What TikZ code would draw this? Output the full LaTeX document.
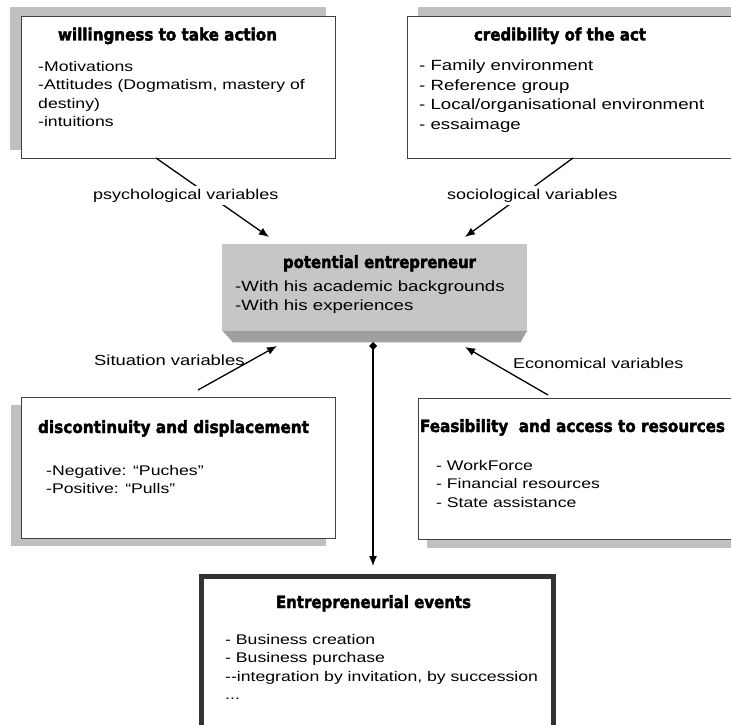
\documentclass[tikz,border=0pt]{standalone}
\usepackage{fontspec}
\usepackage{graphicx}
\usetikzlibrary{arrows.meta}
\newfontfamily\bodyf{Liberation Sans}[FakeStretch=1.26]
\newfontfamily\titlef{DejaVu Sans}[BoldFeatures={FakeBold=2.5}]
\definecolor{shadowgray}{RGB}{192,192,192}
\definecolor{facegray}{RGB}{198,198,198}
\definecolor{bevelgray}{RGB}{160,160,160}
\definecolor{bordergray}{RGB}{64,64,64}
\definecolor{evgray}{RGB}{51,51,51}
\newcommand{\ttl}[2]{\resizebox{#1}{12.8pt}{\titlef\bfseries #2}}
\newcommand{\lines}[1]{\begin{tabular}[t]{@{}l@{}}#1\end{tabular}}
\tikzset{
  shadowbox/.style={fill=shadowgray},
  box/.style={draw=bordergray, line width=1.1pt, fill=white, anchor=north west, inner sep=0pt},
  body/.style={anchor=base west, inner sep=0pt, font=\bodyf\fontsize{14}{18.5}\selectfont},
  bodylg/.style={body, font=\bodyf\fontsize{14.8}{19.5}\selectfont},
  ttlnode/.style={anchor=base, inner sep=0pt},
  lbl/.style={anchor=base west, inner xsep=0pt, inner ysep=3pt, font=\bodyf\fontsize{14.3}{17}\selectfont},
  conn/.style={line width=1.3pt, -{Latex[length=10pt,width=8pt]}},
}
\begin{document}
\begin{tikzpicture}[x=1pt, y=-1pt]
\clip (0,0) rectangle (731,725);
\fill[white] (0,0) rectangle (731,725);
% shadows
\fill[shadowbox] (10,7) rectangle (326,150);
\fill[shadowbox] (418,7) rectangle (740,150);
\fill[shadowbox] (11,405) rectangle (326,546);
\fill[shadowbox] (427,406) rectangle (740,548);
% boxes
\node[box, minimum width=314pt, minimum height=142pt] (will) at (21,16) {};
\node[box, minimum width=330pt, minimum height=142pt] (cred) at (407,16) {};
\node[box, minimum width=314pt, minimum height=141pt] (disc) at (21,397) {};
\node[box, minimum width=320pt, minimum height=141pt] (feas) at (418,398) {};
\node[fill=facegray, anchor=north west, inner sep=0pt, minimum width=305pt, minimum height=86pt] (pe) at (222,244) {};
\fill[bevelgray] (pe.south west) -- (pe.south east) -- ([xshift=-7pt,yshift=-12pt]pe.south east) -- ([xshift=11pt,yshift=-12pt]pe.south west) -- cycle;
\node[draw=evgray, line width=5pt, fill=white, anchor=north west, inner sep=0pt, minimum width=352pt, minimum height=200pt] (ev) at (198.5,573.5) {};
% titles
\node[ttlnode] (t1) at (167.5,40.5) {\ttl{219pt}{willingness to take action}};
\node[ttlnode] (t2) at (560,40.5) {\ttl{172pt}{credibility of the act}};
\node[ttlnode] (t3) at (379.5,268) {\ttl{193pt}{potential entrepreneur}};
\node[ttlnode] (t4) at (173.5,433) {\ttl{271pt}{discontinuity and displacement}};
\node[ttlnode] (t5) at (572.5,432) {\ttl{305pt}{Feasibility\ \ and access to resources}};
\node[ttlnode] (t6) at (373.5,608) {\ttl{195pt}{Entrepreneurial events}};
% body texts
\node[body] (x1) at (38,71) {\lines{-Motivations\\-Attitudes (Dogmatism, mastery of\\destiny)\\-intuitions}};
\node[bodylg] (x2) at (419,70.7) {\lines{- Family environment\\- Reference group\\- Local/organisational environment\\- essaimage}};
\node[body, font=\bodyf\fontsize{14.8}{19}\selectfont] (x3) at (235,291) {\lines{-With his academic backgrounds\\-With his experiences}};
\node[body, font=\bodyf\fontsize{14}{18}\selectfont] (x4) at (46,475) {\lines{-Negative: “Puches”\\-Positive: “Pulls”}};
\node[body] (x5) at (436,470) {\lines{- WorkForce\\- Financial resources\\- State assistance}};
\node[body] (x6) at (225,644) {\lines{- Business creation\\- Business purchase\\-{}-integration by invitation, by succession\\...}};
% connector end points
\coordinate (ps1) at (156,158);
\coordinate (ps2) at (269,237);
\coordinate (so1) at (573,158);
\coordinate (so2) at (465,237);
\coordinate (si1) at (198,390);
\coordinate (si2) at (277,346);
\coordinate (ec1) at (548,395);
\coordinate (ec2) at (465,347);
\coordinate (pb) at (373,342);
\coordinate (evtip) at (373,566);
% connectors
\draw[conn] (ps1) -- (ps2);
\draw[conn] (so1) -- (so2);
\draw[conn] (si1) -- (si2);
\draw[conn] (ec1) -- (ec2);
\draw[line width=1.3pt, {Diamond[length=8pt,width=8pt]}-{Latex[length=10pt,width=8pt]}] (pb) -- (evtip);
% labels
\node[lbl, fill=white] (lps) at (93,199) {psychological variables};
\node[lbl, fill=white] (lso) at (447,199) {sociological variables};
\node[lbl, font=\bodyf\fontsize{14.6}{17}\selectfont] (lsi) at (94,365) {Situation variables};
\node[lbl] (lec) at (513,368) {Economical variables};
\end{tikzpicture}
\end{document}
